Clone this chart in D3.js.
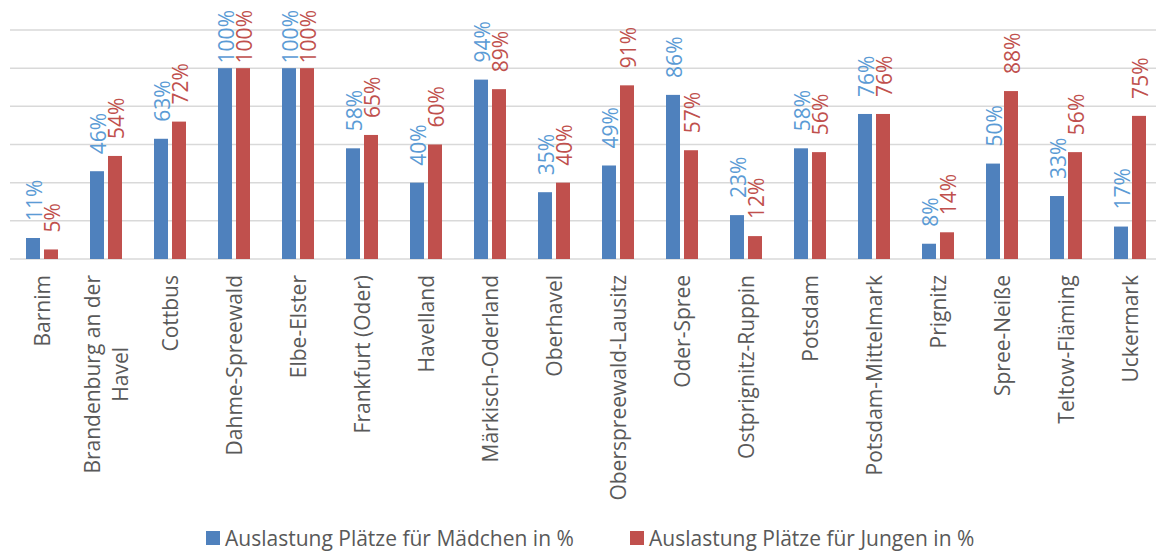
<!DOCTYPE html>
<html>
<head>
<meta charset="utf-8">
<script src="https://cdn.jsdelivr.net/npm/d3@7"></script>
<style>
  body { margin: 0; background: #fff; }
  text { font-family: "Open Sans", sans-serif; }
</style>
</head>
<body>
<svg id="chart" width="1156" height="552"></svg>
<script>
const width = 1156;
const height = 552;

// Kreise / kreisfreie Städte
const categories = [
  "Barnim", "Brandenburg an der\nHavel", "Cottbus", "Dahme-Spreewald", "Elbe-Elster",
  "Frankfurt (Oder)", "Havelland", "Märkisch-Oderland", "Oberhavel", "Oberspreewald-Lausitz",
  "Oder-Spree", "Ostprignitz-Ruppin", "Potsdam", "Potsdam-Mittelmark", "Prignitz",
  "Spree-Neiße", "Teltow-Fläming", "Uckermark"
];
const maedchen = [11, 46, 63, 100, 100, 58, 40, 94, 35, 49, 86, 23, 58, 76, 8, 50, 33, 17];
const jungen = [5, 54, 72, 100, 100, 65, 60, 89, 40, 91, 57, 12, 56, 76, 14, 88, 56, 75];
const seriesNames = ["Auslastung Plätze für Mädchen in %", "Auslastung Plätze für Jungen in %"];
const gridTicks = [0, 20, 40, 60, 80, 100, 120];

const barColors = ["#4f81bd", "#c0504d"];
const labelColors = ["#5b9bd5", "#c0504d"];
const fontSize = "21px";

const data = categories.map((c, i) => ({ cat: c, values: [maedchen[i], jungen[i]] }));

const svg = d3.select("#chart");

const x0 = d3.scaleBand().domain(categories).range([10, 1162]).padding(0);
const x1 = d3.scaleBand().domain([0, 1]).range([0, x0.bandwidth()])
  .paddingInner(0.222).paddingOuter(0.889);
const y = d3.scaleLinear().domain([0, 120]).range([259, 30]);

// Gitternetz
svg.append("g").selectAll("line")
  .data(gridTicks)
  .enter().append("line")
  .attr("x1", 10).attr("x2", width)
  .attr("y1", d => y(d)).attr("y2", d => y(d))
  .attr("stroke", "#d9d9d9")
  .attr("stroke-width", 1.5);

// Balken
const groups = svg.append("g").selectAll("g")
  .data(data)
  .enter().append("g")
  .attr("transform", d => `translate(${x0(d.cat)},0)`);

groups.selectAll("rect")
  .data(d => d.values.map((v, k) => ({ v, k })))
  .enter().append("rect")
  .attr("x", d => x1(d.k))
  .attr("width", x1.bandwidth())
  .attr("y", d => y(d.v))
  .attr("height", d => y(0) - y(d.v))
  .attr("fill", d => barColors[d.k]);

// Datenbeschriftung
groups.selectAll("text.val")
  .data(d => d.values.map((v, k) => ({ v, k })))
  .enter().append("text")
  .attr("class", "val")
  .attr("text-anchor", "start")
  .attr("dy", "0.36em")
  .style("font-size", fontSize)
  .attr("fill", d => labelColors[d.k])
  .text(d => d.v + "%")
  .each(function (d) {
    const len = this.getComputedTextLength();
    const yy = Math.max(y(d.v) - 17, 10 + len);
    const xx = x1(d.k) + x1.bandwidth() / 2 + 1;
    d3.select(this).attr("transform", `translate(${xx},${yy}) rotate(-90)`);
  });

// Kategorienbeschriftung
const catLabels = svg.append("g").selectAll("g")
  .data(categories)
  .enter().append("g")
  .attr("transform", d => `translate(${x0(d) + x0.bandwidth() / 2},275) rotate(-90)`);

catLabels.each(function (d) {
  const lines = d.split("\n");
  const g = d3.select(this);
  const lineH = 28;
  const off = (lines.length - 1) * lineH / 2;
  const texts = lines.map((l, i) => g.append("text")
    .attr("y", i * lineH - off)
    .attr("dy", "0.36em")
    .style("font-size", fontSize)
    .attr("fill", "#595959")
    .text(l));
  const lens = texts.map(t => t.node().getComputedTextLength());
  const maxLen = d3.max(lens);
  texts.forEach(t => t.attr("text-anchor", "middle").attr("x", -maxLen / 2));
});

// Legende
const legendX = [206, 630];
const legend = svg.append("g").selectAll("g")
  .data(seriesNames)
  .enter().append("g")
  .attr("transform", (d, i) => `translate(${legendX[i]},531)`);

legend.append("rect")
  .attr("width", 14).attr("height", 14)
  .attr("fill", (d, i) => barColors[i]);

legend.append("text")
  .attr("x", 19).attr("y", 7)
  .attr("dy", "0.36em")
  .style("font-size", fontSize)
  .attr("fill", "#595959")
  .text(d => d);
</script>
</body>
</html>
